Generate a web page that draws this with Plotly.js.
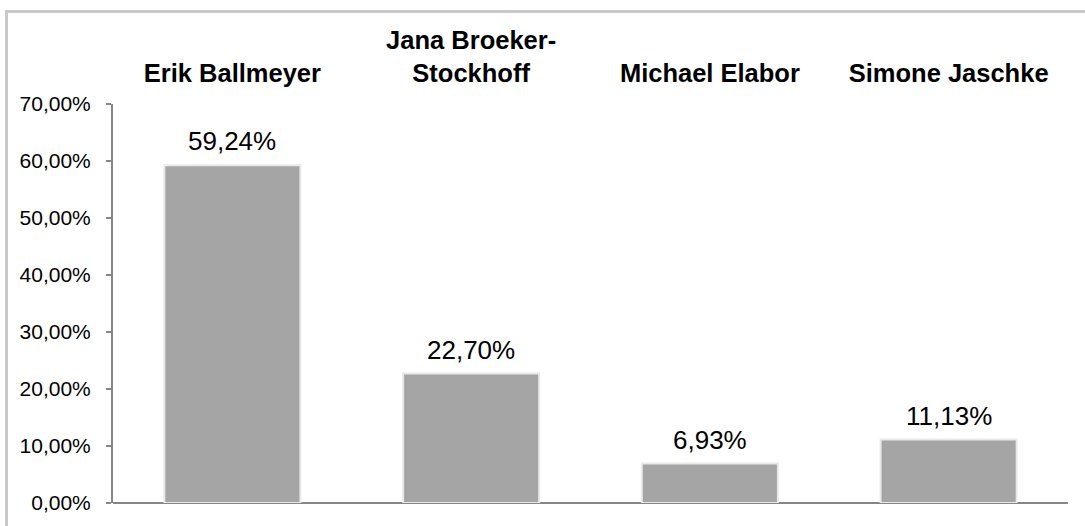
<!DOCTYPE html>
<html>
<head>
<meta charset="utf-8">
<script src="https://cdn.plot.ly/plotly-3.0.1.min.js"></script>
<style>
html,body{margin:0;padding:0;background:#fff;}
#wrap{position:relative;width:1085px;height:526px;}
#chart{position:absolute;left:0;top:0;width:1085px;height:526px;}
#frame{position:absolute;left:5px;top:10px;width:1100px;height:540px;border-left:3px solid #c9c9c9;border-top:3px solid #c9c9c9;pointer-events:none;}
</style>
</head>
<body>
<div id="wrap"><div id="chart"></div><div id="frame"></div></div>
<script>
var categories = ["Erik Ballmeyer", "Jana Broeker-<br>Stockhoff", "Michael Elabor", "Simone Jaschke"];
var values = [59.24, 22.70, 6.93, 11.13];
var valueLabels = ["59,24%", "22,70%", "6,93%", "11,13%"];

var trace = {
  type: "bar",
  x: categories,
  y: values,
  marker: {color: "#a5a5a5", line: {color: "#e9e9e9", width: 2}},
  hoverinfo: "none"
};

var annotations = categories.map(function(c, i){
  return {x: c, y: values[i], xref: "x", yref: "y", text: valueLabels[i], showarrow: false,
          yanchor: "bottom", yshift: 7, font: {family: "Liberation Sans, Arial, sans-serif", size: 26, color: "#000"}};
});

var layout = {
  width: 1085, height: 526,
  margin: {l: 113, r: 17, t: 104, b: 23},
  paper_bgcolor: "#fff", plot_bgcolor: "#fff",
  separators: ",.",
  showlegend: false,
  bargap: 0.43,
  font: {family: "Liberation Sans, Arial, sans-serif", color: "#000"},
  xaxis: {
    side: "top", type: "category", showline: false, showgrid: false, zeroline: false, ticks: "",
    tickfont: {family: "Liberation Sans, Arial, sans-serif", size: 25.5, color: "#000", weight: "bold"},
    ticklabelstandoff: 16
  },
  yaxis: {
    range: [0, 70], dtick: 10, tickformat: ".2f", ticksuffix: "%",
    showgrid: false, showline: true, linecolor: "#868686", linewidth: 2,
    ticks: "outside", ticklen: 5, tickcolor: "#868686", tickwidth: 2,
    zeroline: true, zerolinecolor: "#868686", zerolinewidth: 2,
    tickfont: {family: "Liberation Sans, Arial, sans-serif", size: 21, color: "#000"},
    ticklabelstandoff: 11
  },
  annotations: annotations
};

Plotly.newPlot("chart", [trace], layout, {displayModeBar: false, staticPlot: true});
</script>
</body>
</html>
